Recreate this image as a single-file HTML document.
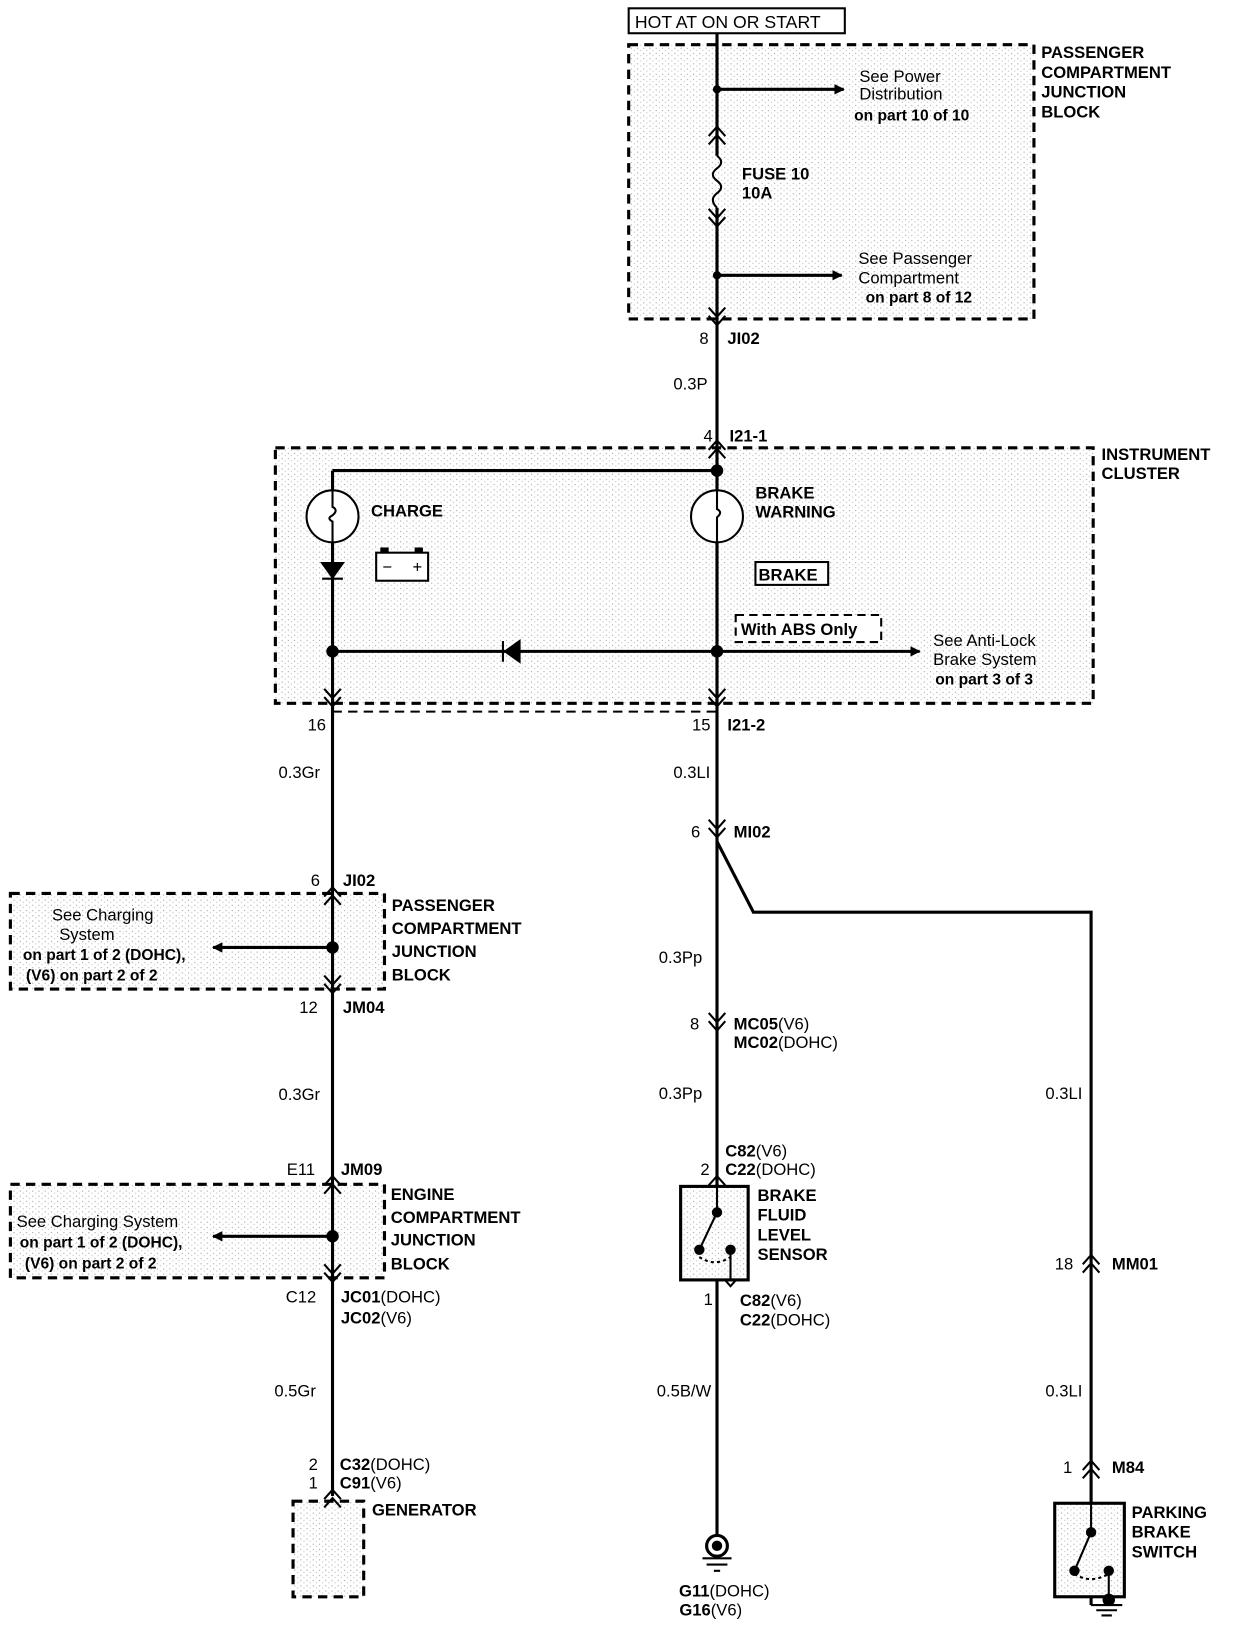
<!DOCTYPE html>
<html><head><meta charset="utf-8"><style>
html,body{margin:0;padding:0;background:#fff}
svg{display:block}
text{font-family:"Liberation Sans",sans-serif;font-size:16px;fill:#000}
.b{font-weight:bold}
</style></head><body>
<svg width="1248" height="1630" viewBox="0 0 1201 1569" preserveAspectRatio="none" xmlns="http://www.w3.org/2000/svg">
<defs>
<pattern id="st" width="6" height="5" patternUnits="userSpaceOnUse">
<rect width="6" height="5" fill="#fff"/><rect x="1" y="1" width="1" height="1" fill="#999"/><rect x="4" y="3" width="1" height="1" fill="#bbb"/>
</pattern>
<marker id="ar" markerWidth="10" markerHeight="10" refX="9" refY="5" orient="auto" markerUnits="userSpaceOnUse"><path d="M0,0 L10,5 L0,10Z"/></marker>
<g id="dn"><path d="M-8,-9 L0,0 L8,-9 M-8,-1 L0,8 L8,-1" fill="none" stroke="#000" stroke-width="2"/></g>
<g id="up"><path d="M-8,9 L0,0 L8,9 M-8,1 L0,-8 L8,1" fill="none" stroke="#000" stroke-width="2"/></g>
</defs>
<g fill="url(#st)" stroke="#000" stroke-width="3" stroke-dasharray="9,6">
<rect x="605" y="43" width="390" height="264"/>
<rect x="265" y="431" width="787" height="246"/>
<rect x="10" y="860" width="360" height="92"/>
<rect x="10" y="1140" width="360" height="90"/>
<rect x="282" y="1445" width="68" height="92"/>
</g>
<path d="M320,685 L690,685" stroke="#000" stroke-width="2" stroke-dasharray="9,6"/>
<rect x="605" y="8" width="208" height="24" fill="#fff" stroke="#000" stroke-width="2"/>
<text x="611" y="27" style="font-size:17px">HOT AT ON OR START</text>
<g stroke="#000" stroke-width="3" fill="none">
<path d="M690,32 V150 M690,200 V1478"/>
<path d="M690,150 q8,6 0,12 q-8,6 0,12 q8,6 0,12 q-8,6 0,14" stroke-width="2"/>
<path d="M320,453 H690 M320,453 V1440 M690,810 L725,878 H1050 V1545"/>
<path d="M690,86 H812" marker-end="url(#ar)"/>
<path d="M690,265 H810" marker-end="url(#ar)"/>
<path d="M690,627 H885" marker-end="url(#ar)"/>
<path d="M320,627 H690"/>
<path d="M320,912 H205" marker-end="url(#ar)"/>
<path d="M320,1190 H205" marker-end="url(#ar)"/>
</g>
<g fill="#000">
<circle cx="690" cy="86" r="4"/><circle cx="690" cy="265" r="4"/>
<circle cx="690" cy="453" r="6"/><circle cx="690" cy="627" r="6"/><circle cx="320" cy="627" r="6"/>
<circle cx="320" cy="912" r="6"/><circle cx="320" cy="1190" r="6"/>
</g>
<use href="#up" x="690" y="130"/><use href="#dn" x="690" y="210"/><use href="#dn" x="690" y="305"/>
<use href="#up" x="690" y="432"/><use href="#dn" x="320" y="672"/><use href="#dn" x="690" y="672"/>
<use href="#dn" x="690" y="798"/><use href="#up" x="320" y="862"/><use href="#dn" x="320" y="948"/>
<use href="#up" x="320" y="1140"/><use href="#dn" x="320" y="1226"/><use href="#up" x="320" y="1442"/>
<use href="#dn" x="690" y="984"/><use href="#up" x="690" y="1140"/><use href="#dn" x="703" y="1230"/>
<use href="#up" x="1050" y="1216"/><use href="#up" x="1050" y="1414"/>
<g stroke="#000" stroke-width="2" fill="#fff">
<circle cx="320" cy="497" r="25"/><circle cx="690" cy="497" r="25"/>
</g>
<path d="M320,472 V488 q6,3 0,8 q-6,3 0,6 V522 M690,472 V490 q6,3 0,8 V522" stroke="#000" stroke-width="2" fill="none"/>
<path d="M310,542 L330,542 L320,556Z M310,557 H330" fill="#000" stroke="#000" stroke-width="2"/>
<path d="M500,617 L500,637 L486,627Z M484,617 V637" fill="#000" stroke="#000" stroke-width="2"/>
<rect x="362" y="532" width="50" height="27" fill="#fff" stroke="#000" stroke-width="2"/>
<rect x="366" y="527" width="8" height="5"/><rect x="399" y="527" width="8" height="5"/>
<text x="368" y="551">−</text><text x="397" y="551">+</text>
<rect x="727" y="541" width="70" height="22" fill="#fff" stroke="#000" stroke-width="2"/>
<text x="730" y="559" class="b">BRAKE</text>
<rect x="708" y="592" width="140" height="26" fill="#fff" stroke="#000" stroke-width="2" stroke-dasharray="8,5"/>
<text x="713" y="611" class="b">With ABS Only</text>
<rect x="655" y="1142" width="65" height="90" fill="url(#st)" stroke="#000" stroke-width="3"/>
<path d="M690,1140 V1167 L673,1203 M703,1203 V1232" stroke="#000" stroke-width="2" fill="none"/>
<path d="M673,1210 q15,10 30,0" stroke="#000" stroke-width="2" fill="none" stroke-dasharray="3,3"/>
<circle cx="690" cy="1167" r="5"/><circle cx="673" cy="1203" r="5"/><circle cx="703" cy="1203" r="5"/>
<rect x="1015" y="1447" width="67" height="90" fill="url(#st)" stroke="#000" stroke-width="3"/>
<path d="M1050,1447 V1475 L1034,1512 M1067,1512 V1545 M1050,1545 H1080 M1055,1550 H1075 M1060,1555 H1070" stroke="#000" stroke-width="2" fill="none"/>
<path d="M1034,1515 q15,10 33,0" stroke="#000" stroke-width="2" fill="none" stroke-dasharray="3,3"/>
<circle cx="1050" cy="1475" r="5"/><circle cx="1034" cy="1512" r="5"/><circle cx="1067" cy="1512" r="5"/><circle cx="1067" cy="1540" r="6"/>
<circle cx="690" cy="1488" r="10" fill="#fff" stroke="#000" stroke-width="3"/><circle cx="690" cy="1488" r="5"/>
<path d="M676,1500 H704 M680,1506 H700 M687,1512 H693" stroke="#000" stroke-width="2"/>
<text x="827" y="79">See Power</text><text x="827" y="96">Distribution</text>
<text x="822" y="116" class="b" style="font-size:15px">on part 10 of 10</text>
<text x="1002" y="56" class="b">PASSENGER</text><text x="1002" y="75" class="b">COMPARTMENT</text>
<text x="1002" y="94" class="b">JUNCTION</text><text x="1002" y="113" class="b">BLOCK</text>
<text x="714" y="173" class="b">FUSE 10</text><text x="714" y="191" class="b">10A</text>
<text x="826" y="254">See Passenger</text><text x="826" y="273">Compartment</text>
<text x="833" y="291" class="b" style="font-size:15px">on part 8 of 12</text>
<text x="673" y="331">8</text><text x="700" y="331" class="b">JI02</text>
<text x="648" y="375">0.3P</text>
<text x="677" y="425">4</text><text x="702" y="425" class="b">I21-1</text>
<text x="1060" y="443" class="b">INSTRUMENT</text><text x="1060" y="461" class="b">CLUSTER</text>
<text x="357" y="497" class="b">CHARGE</text>
<text x="727" y="480" class="b">BRAKE</text><text x="727" y="498" class="b">WARNING</text>
<text x="898" y="622">See Anti-Lock</text><text x="898" y="640">Brake System</text>
<text x="900" y="659" class="b" style="font-size:15px">on part 3 of 3</text>
<text x="296" y="703">16</text><text x="666" y="703">15</text><text x="700" y="703" class="b">I21-2</text>
<text x="268" y="749">0.3Gr</text><text x="648" y="749">0.3LI</text>
<text x="665" y="806">6</text><text x="706" y="806" class="b">MI02</text>
<text x="299" y="853">6</text><text x="330" y="853" class="b">JI02</text>
<text x="377" y="877" class="b">PASSENGER</text><text x="377" y="899" class="b">COMPARTMENT</text>
<text x="377" y="921" class="b">JUNCTION</text><text x="377" y="944" class="b">BLOCK</text>
<text x="50" y="886">See Charging</text><text x="57" y="905">System</text>
<text x="22" y="924" class="b" style="font-size:15px">on part 1 of 2 (DOHC),</text>
<text x="25" y="944" class="b" style="font-size:15px">(V6) on part 2 of 2</text>
<text x="634" y="927">0.3Pp</text>
<text x="288" y="975">12</text><text x="330" y="975" class="b">JM04</text>
<text x="664" y="991">8</text><text x="706" y="991" class="b">MC05<tspan style="font-weight:normal">(V6)</tspan></text>
<text x="706" y="1009" class="b">MC02<tspan style="font-weight:normal">(DOHC)</tspan></text>
<text x="268" y="1059">0.3Gr</text><text x="634" y="1058">0.3Pp</text><text x="1006" y="1058">0.3LI</text>
<text x="276" y="1131">E11</text><text x="328" y="1131" class="b">JM09</text>
<text x="674" y="1131">2</text><text x="698" y="1113" class="b">C82<tspan style="font-weight:normal">(V6)</tspan></text>
<text x="698" y="1131" class="b">C22<tspan style="font-weight:normal">(DOHC)</tspan></text>
<text x="376" y="1155" class="b">ENGINE</text><text x="376" y="1177" class="b">COMPARTMENT</text>
<text x="376" y="1199" class="b">JUNCTION</text><text x="376" y="1222" class="b">BLOCK</text>
<text x="16" y="1181">See Charging System</text>
<text x="19" y="1201" class="b" style="font-size:15px">on part 1 of 2 (DOHC),</text>
<text x="24" y="1221" class="b" style="font-size:15px">(V6) on part 2 of 2</text>
<text x="729" y="1156" class="b">BRAKE</text><text x="729" y="1175" class="b">FLUID</text>
<text x="729" y="1194" class="b">LEVEL</text><text x="729" y="1213" class="b">SENSOR</text>
<text x="1015" y="1222">18</text><text x="1070" y="1222" class="b">MM01</text>
<text x="275" y="1254">C12</text><text x="328" y="1254" class="b">JC01<tspan style="font-weight:normal">(DOHC)</tspan></text>
<text x="328" y="1274" class="b">JC02<tspan style="font-weight:normal">(V6)</tspan></text>
<text x="686" y="1256" style="text-anchor:end">1</text>
<text x="712" y="1257" class="b">C82<tspan style="font-weight:normal">(V6)</tspan></text>
<text x="712" y="1276" class="b">C22<tspan style="font-weight:normal">(DOHC)</tspan></text>
<text x="264" y="1344">0.5Gr</text><text x="632" y="1344">0.5B/W</text><text x="1006" y="1344">0.3LI</text>
<text x="1023" y="1418">1</text><text x="1070" y="1418" class="b">M84</text>
<text x="297" y="1415">2</text><text x="297" y="1433">1</text>
<text x="327" y="1415" class="b">C32<tspan style="font-weight:normal">(DOHC)</tspan></text>
<text x="327" y="1433" class="b">C91<tspan style="font-weight:normal">(V6)</tspan></text>
<text x="358" y="1459" class="b">GENERATOR</text>
<text x="1089" y="1461" class="b">PARKING</text><text x="1089" y="1480" class="b">BRAKE</text><text x="1089" y="1499" class="b">SWITCH</text>
<text x="697" y="1537" class="b" style="text-anchor:middle">G11<tspan style="font-weight:normal">(DOHC)</tspan></text>
<text x="684" y="1555" class="b" style="text-anchor:middle">G16<tspan style="font-weight:normal">(V6)</tspan></text>
</svg>
</body></html>
